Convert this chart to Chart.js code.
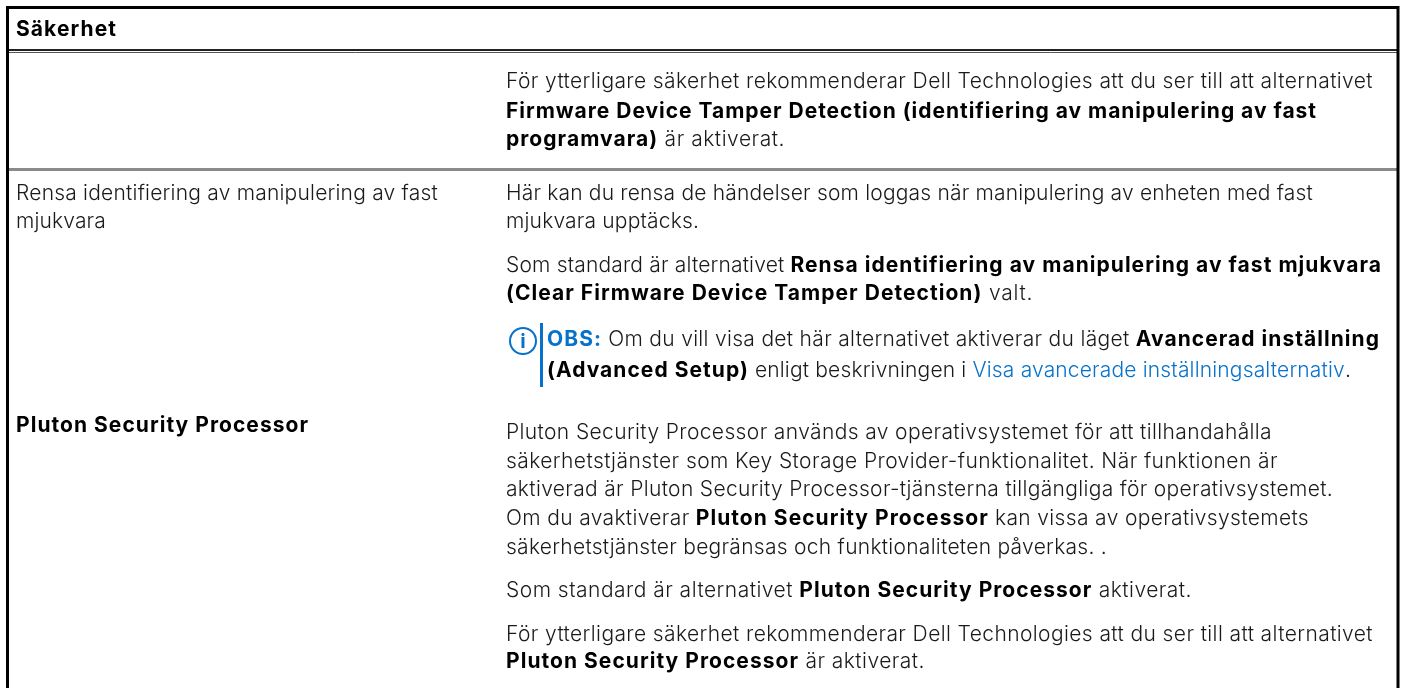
<!DOCTYPE html>
<html lang="sv"><head><meta charset="utf-8">
<script src="https://cdn.jsdelivr.net/npm/chart.js@4"></script>
<style>html,body{margin:0;padding:0;background:#fff;overflow:hidden}canvas{display:block}</style>
</head><body><canvas id="c" width="1403" height="688"></canvas>
<script>
// Table content. ** = bold, ^^ = blue bold, ~~ = blue link
const textLines = [
 "**Säkerhet**",
 "För ytterligare säkerhet rekommenderar Dell Technologies att du ser till att alternativet",
 "**Firmware Device Tamper Detection (identifiering av manipulering av fast**",
 "**programvara)** är aktiverat.",
 "Rensa identifiering av manipulering av fast",
 "mjukvara",
 "Här kan du rensa de händelser som loggas när manipulering av enheten med fast",
 "mjukvara upptäcks.",
 "Som standard är alternativet **Rensa identifiering av manipulering av fast mjukvara**",
 "**(Clear Firmware Device Tamper Detection)** valt.",
 "^^OBS:^^ Om du vill visa det här alternativet aktiverar du läget **Avancerad inställning**",
 "**(Advanced Setup)** enligt beskrivningen i ~~Visa avancerade inställningsalternativ~~.",
 "**Pluton Security Processor**",
 "Pluton Security Processor används av operativsystemet för att tillhandahålla",
 "säkerhetstjänster som Key Storage Provider-funktionalitet. När funktionen är",
 "aktiverad är Pluton Security Processor-tjänsterna tillgängliga för operativsystemet.",
 "Om du avaktiverar **Pluton Security Processor** kan vissa av operativsystemets",
 "säkerhetstjänster begränsas och funktionaliteten påverkas. .",
 "Som standard är alternativet **Pluton Security Processor** aktiverat.",
 "För ytterligare säkerhet rekommenderar Dell Technologies att du ser till att alternativet",
 "**Pluton Security Processor** är aktiverat."
];
const lineStart = [16,506,506,506,16,16,506,506,506,506,547,547,16,506,506,506,506,506,506,506,506];
const lineEnd   = [117,1373,1317,785,438,106,1313,699,1382,1033,1380,1351,309,1272,1278,1333,1309,1107,1192,1373,925];
const lineBase  = [36,88,117.5,146,200,228,200,228,272,300,345.5,377,432,439,468,496,525,554,597,641,668];
// Width of the sample bold phrase
const boldSample = "Pluton Security Processor";
const boldSampleWidth = 293;
// Table rules: x and y in picture units
const frameX = [7.5,7.5,1398,1398];
const frameY = [688,7.5,7.5,688];
const headRuleX = [8,1398];
const headRuleDarkY = [50,50];
const headRuleThinY = [52.5,52.5];
const rowRuleY = [169.5,169.5];
const noteBarX = [541.5,541.5];
const noteBarY = [323,387];
const noteIconX = [523];
const noteIconY = [341];

const pts = (xs, ys) => xs.map((x, i) => ({x, y: ys[i]}));
const rule = (data, color, width) => ({data, showLine: true, borderColor: color, borderWidth: width, pointRadius: 0, fill: false});

const FONT = 'Inter, Roboto, "Liberation Sans", sans-serif';
const BLACK = '#1a1a1a', BLUE = '#0672cb';
const SIZE = 21;

function parse(line) {
  return line.split(/(\*\*.*?\*\*|\^\^.*?\^\^|~~.*?~~)/).filter(Boolean).map(s => {
    const m = s.slice(0, 2);
    if (m === '**') return {t: s.slice(2, -2), w: 700, c: '#000'};
    if (m === '^^') return {t: s.slice(2, -2), w: 700, c: BLUE};
    if (m === '~~') return {t: s.slice(2, -2), w: 300, c: BLUE};
    return {t: s, w: 300, c: BLACK};
  });
}

const tablePlugin = {
  id: 'tableText',
  afterDatasetsDraw(chart) {
    const {ctx, scales: {x, y}} = chart;
    ctx.save();
    ctx.textBaseline = 'alphabetic';
    ctx.letterSpacing = '0px';
    ctx.font = `700 ${SIZE}px ${FONT}`;
    const boldLs = (boldSampleWidth - ctx.measureText(boldSample).width) / boldSample.length;
    textLines.forEach((line, i) => {
      const segs = parse(line);
      const startPx = x.getPixelForValue(lineStart[i]);
      const target = x.getPixelForValue(lineEnd[i]) - startPx;
      ctx.letterSpacing = '0px';
      let natural = 0, chars = 0, allBold = segs.every(s => s.w === 700);
      segs.forEach(s => {
        ctx.font = `${s.w} ${SIZE}px ${FONT}`;
        const width = ctx.measureText(s.t).width;
        if (s.w === 700 && !allBold) natural += width + boldLs * s.t.length;
        else { natural += width; chars += s.t.length; }
      });
      const fitLs = (target - natural) / chars;
      let cx = startPx;
      segs.forEach(s => {
        ctx.font = `${s.w} ${SIZE}px ${FONT}`;
        ctx.letterSpacing = ((s.w === 700 && !allBold) ? boldLs : fitLs).toFixed(3) + 'px';
        ctx.fillStyle = s.c;
        ctx.fillText(s.t, cx, y.getPixelForValue(lineBase[i]));
        cx += ctx.measureText(s.t).width;
      });
    });
    // the "i" inside the note icon
    ctx.letterSpacing = '0px';
    ctx.font = `700 20px ${FONT}`;
    ctx.fillStyle = BLUE;
    ctx.textAlign = 'center';
    ctx.fillText('i', x.getPixelForValue(noteIconX[0]), y.getPixelForValue(noteIconY[0]) + 7);
    ctx.restore();
  }
};

new Chart(document.getElementById('c'), {
  type: 'scatter',
  data: {datasets: [
    rule(pts(frameX, frameY), '#000', 3),
    rule(pts(headRuleX, headRuleDarkY), '#222', 2),
    rule(pts(headRuleX, headRuleThinY), '#555', 1),
    rule(pts(headRuleX, rowRuleY), '#8a8a8a', 3),
    rule(pts(noteBarX, noteBarY), BLUE, 3),
    {data: pts(noteIconX, noteIconY), pointRadius: 13, pointBackgroundColor: '#fff', pointBorderColor: BLUE, pointBorderWidth: 2}
  ]},
  options: {
    responsive: false, animation: false,
    layout: {padding: 0, autoPadding: false},
    plugins: {legend: {display: false}, tooltip: {enabled: false}},
    scales: {
      x: {type: 'linear', min: 0, max: 1403, display: false},
      y: {type: 'linear', min: 0, max: 688, reverse: true, display: false}
    }
  },
  plugins: [tablePlugin]
});
</script></body></html>
